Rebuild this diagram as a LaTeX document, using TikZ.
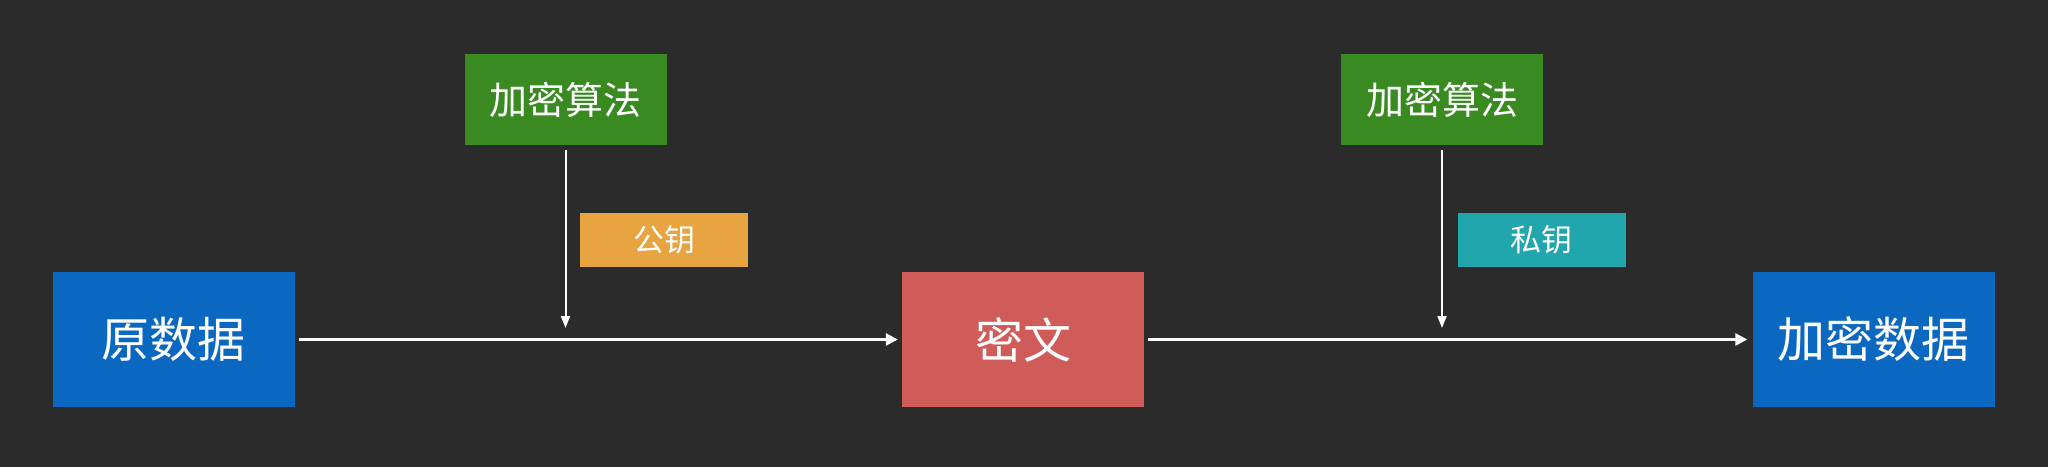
\documentclass[tikz,border=0pt]{standalone}
\usepackage{fontspec}
\newfontfamily\cjk{Noto Sans CJK SC}
\usetikzlibrary{arrows.meta}
\definecolor{bg}{HTML}{2B2B2B}
\definecolor{boxgreen}{HTML}{3A8A22}
\definecolor{boxorange}{HTML}{E8A440}
\definecolor{boxteal}{HTML}{22A6AE}
\definecolor{boxred}{HTML}{D05C5A}
\definecolor{boxblue}{HTML}{0B68C0}
\tikzset{
  big/.style={fill=boxblue, minimum width=242pt, minimum height=135pt, inner sep=0pt,
    text=white, font=\cjk\fontsize{48}{48}\selectfont},
  algbox/.style={fill=boxgreen, minimum width=202pt, minimum height=91pt, inner sep=0pt,
    text=white, font=\cjk\fontsize{38}{38}\selectfont},
  keybox/.style={minimum width=168pt, minimum height=54pt, inner sep=0pt,
    text=white, font=\cjk\fontsize{31}{31}\selectfont},
  flow/.style={draw=white, line width=2.8pt, -{Triangle[width=12pt,length=12pt]}},
  down/.style={draw=white, line width=2pt, -{Triangle[width=9pt,length=12pt]}}
}
\begin{document}
\begin{tikzpicture}[x=1pt,y=-1pt]
\fill[bg] (0,0) rectangle (2048,467);
\useasboundingbox (0,0) rectangle (2048,467);
\node[big] (src) at (173.5,339.5) {原数据};
\node[big, fill=boxred] (cipher) at (1023,339.5) {密文};
\node[big] (dst) at (1873.5,339.5) {加密数据};
\node[algbox] (alg1) at (565.5,99.5) {加密算法};
\node[algbox] (alg2) at (1442,99.5) {加密算法};
\node[keybox, fill=boxorange] (pub) at (664,240) {公钥};
\node[keybox, fill=boxteal] (priv) at (1541.5,240) {私钥};
\coordinate (t1) at (565.5,328);
\coordinate (t2) at (1442,328);
\draw[down, shorten <=5pt] (alg1.south) -- (t1);
\draw[down, shorten <=5pt] (alg2.south) -- (t2);
\draw[flow, shorten <=4pt, shorten >=4pt] (src.east) -- (cipher.west);
\draw[flow, shorten <=4pt, shorten >=5pt] (cipher.east) -- (dst.west);
\end{tikzpicture}
\end{document}
